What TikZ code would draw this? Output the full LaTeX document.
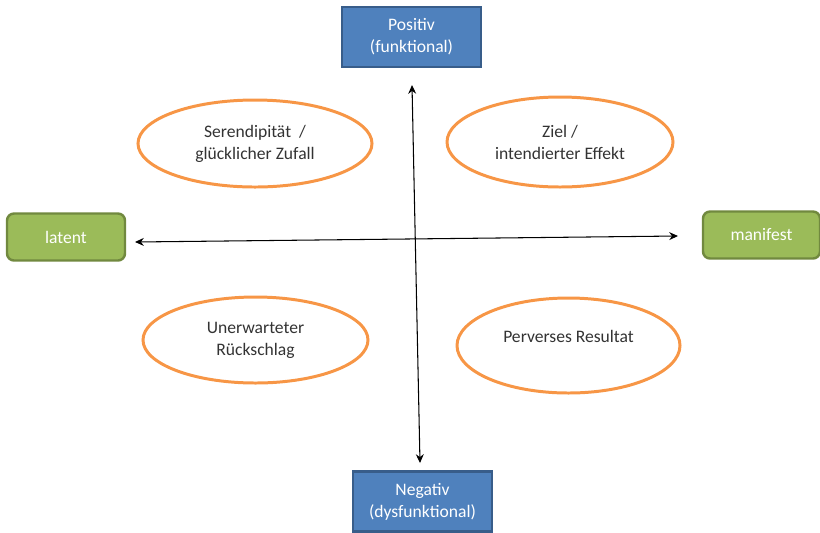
\documentclass[tikz,border=0pt]{standalone}
\usepackage{fontspec}
\setmainfont{Carlito}
\usetikzlibrary{shapes.geometric,arrows.meta}
\definecolor{boxblue}{HTML}{4F81BD}
\definecolor{boxblueline}{HTML}{385D8A}
\definecolor{boxgreen}{HTML}{9BBB59}
\definecolor{boxgreenline}{HTML}{71893F}
\definecolor{ellorange}{HTML}{F79646}
\begin{document}
\begin{tikzpicture}[>={Stealth[length=5pt,width=4.5pt]}, line width=0.6pt,
    font=\fontsize{10}{12.5}\selectfont,
    axisbox/.style={rectangle, draw=boxblueline, fill=boxblue, line width=1.2pt, text=white, align=center, minimum width=2.78cm, minimum height=1.2cm, inner sep=0pt},
    sidebox/.style={rectangle, rounded corners=4pt, draw=boxgreenline, fill=boxgreen, line width=1.4pt, text=white, align=center, minimum height=0.94cm, inner sep=0pt},
    effect/.style={ellipse, draw=ellorange, line width=1.7pt, align=center, inner sep=0pt, text=black!80}]
    \useasboundingbox (0,0) rectangle (16.4,-10.64);
    % Achsen-Enden
    \node[axisbox] (P) at (8.23,-0.74) {Positiv\\(funktional)};
    \node[axisbox] (N) at (8.45,-10.03) {Negativ\\(dysfunktional)};
    \node[sidebox, minimum width=2.36cm] (L) at (1.32,-4.74) {latent};
    \node[sidebox, minimum width=2.34cm] (M) at (15.23,-4.70) {manifest};
    % Achsen
    \coordinate (up) at (8.24,-1.70);
    \coordinate (down) at (8.40,-9.26);
    \coordinate (left) at (2.70,-4.84);
    \coordinate (right) at (13.56,-4.72);
    \draw[<->] (down) -- (up);
    \draw[<->] (left) -- (right);
    % Quadranten
    \node[effect, minimum width=4.68cm, minimum height=1.74cm] (S) at (5.10,-2.87) {Serendipität~ /\\glücklicher Zufall};
    \node[effect, minimum width=4.52cm, minimum height=1.80cm] (Z) at (11.20,-2.84) {Ziel /\\intendierter Effekt};
    \node[effect, minimum width=4.50cm, minimum height=1.72cm] (U) at (5.11,-6.80) {Unerwarteter\\Rückschlag};
    \node[effect, minimum width=4.46cm, minimum height=1.90cm] (R) at (11.37,-6.91) {Perverses Resultat\\[-2pt]\mbox{}};
\end{tikzpicture}
\end{document}
